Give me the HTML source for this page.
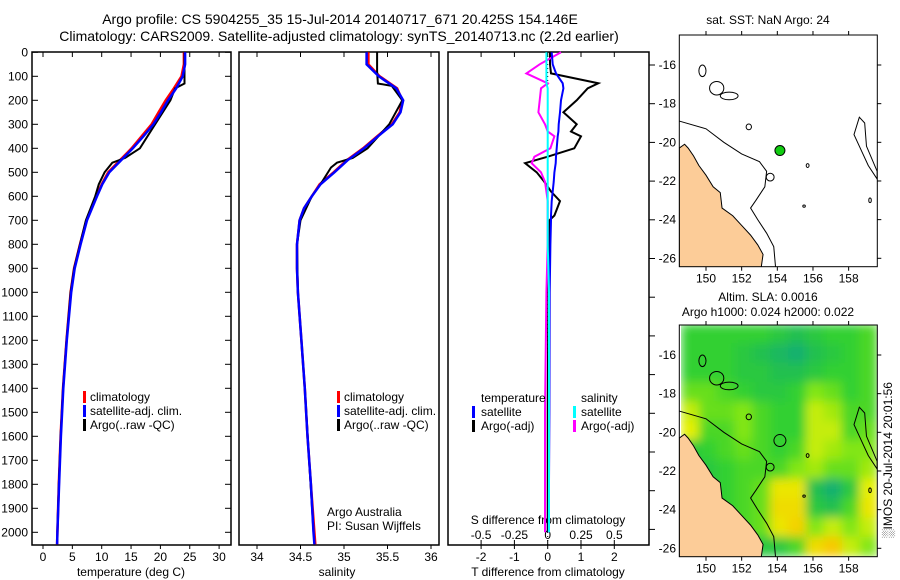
<!DOCTYPE html>
<html><head><meta charset="utf-8"><style>
body{margin:0;background:#fff;}
svg{display:block;font-family:"Liberation Sans",sans-serif;}
text{fill:#000;}
</style></head><body>
<svg id="c" width="900" height="580" viewBox="0 0 900 580">
<defs><filter id="smooth" x="0" y="0" width="1" height="1"><feGaussianBlur stdDeviation="5" edgeMode="duplicate"/></filter></defs>
<g id="titles">
<text x="340" y="24" font-size="14" text-anchor="middle">Argo profile: CS 5904255_35 15-Jul-2014 20140717_671 20.425S 154.146E</text>
<text x="339" y="41" font-size="14" text-anchor="middle">Climatology: CARS2009. Satellite-adjusted climatology: synTS_20140713.nc (2.2d earlier)</text>
<text x="768" y="24" font-size="12" text-anchor="middle">sat. SST: NaN Argo: 24</text>
<text x="768" y="301" font-size="12" text-anchor="middle">Altim. SLA: 0.0016</text>
<text x="768" y="316" font-size="12" text-anchor="middle">Argo h1000: 0.024 h2000: 0.022</text>
<text transform="translate(892,460) rotate(-90)" font-size="12" text-anchor="middle">░IMOS 20-Jul-2014 20:01:56</text>
</g>
</svg>
<script>
// ---- data ----
const depthTicks = [0,100,200,300,400,500,600,700,800,900,1000,1100,1200,1300,1400,1500,1600,1700,1800,1900,2000];
const tempTicks = [0,5,10,15,20,25,30];
const salTicks = [34,34.5,35,35.5,36];
const salTickLabels = ["34","34.5","35","35.5","36"];
const tdiffTicks = [-2,-1,0,1,2];
const sdiffTicks = [-0.5,-0.25,0,0.25,0.5];
const sdiffLabels = ["-0.5","-0.25","0","0.25","0.5"];

const climDepth = [0,50,100,150,200,250,300,350,400,450,500,550,600,700,800,900,1000,1200,1400,1600,1800,2000,2050];
const tempClim = [24.0,24.0,23.6,22.3,20.9,19.7,18.5,16.8,15.1,13.1,11.1,10.0,9.1,7.4,6.3,5.3,4.7,4.0,3.4,3.0,2.7,2.45,2.4];
const tempSat  = [24.2,24.2,23.8,22.7,21.3,20.1,18.8,17.1,15.3,13.3,11.3,10.1,9.2,7.5,6.4,5.4,4.8,4.05,3.45,3.05,2.75,2.45,2.4];
const argoTDepth = [0,130,150,200,300,400,440,460,500,550,600,700,800,900,1000,1200,1400,1600,1800,2000];
const tempArgo = [24.1,24.1,22.5,21.7,19.1,16.5,14.0,11.8,10.5,9.5,8.9,7.3,6.3,5.3,4.7,4.0,3.4,3.0,2.7,2.45];

const salDepth = [0,50,100,150,200,250,300,350,400,450,500,550,600,650,700,800,900,1000,1200,1400,1600,1800,2000,2050];
const salClim = [35.28,35.28,35.41,35.61,35.67,35.64,35.55,35.38,35.22,35.03,34.88,34.72,34.63,34.54,34.49,34.46,34.46,34.47,34.51,34.55,34.58,34.62,34.66,34.67];
const salSat  = [35.26,35.26,35.40,35.60,35.68,35.65,35.56,35.39,35.23,35.04,34.89,34.73,34.63,34.54,34.49,34.46,34.46,34.47,34.51,34.55,34.58,34.62,34.65,34.66];
const argoSDepth = [0,80,130,140,200,300,400,440,460,480,550,600,700,800,1000,1400,2000];
const salArgo = [35.38,35.38,35.39,35.55,35.67,35.52,35.27,35.1,34.92,34.85,34.73,34.63,34.5,34.46,34.47,34.55,34.65];

const diffDepth = [0,50,88,129,150,200,250,300,330,350,400,435,462,500,540,580,620,680,700,800,1000,1500,2000];
const tArgoDiff = [0.07,0.07,0.1,1.52,1.2,0.87,0.47,0.87,0.7,1.0,0.8,0.0,-0.68,-0.33,-0.1,0.1,0.37,0.2,0.05,0.03,0.02,0.0,0.0];
const tSatDiff  = [0.12,0.15,0.25,0.45,0.47,0.4,0.37,0.33,0.32,0.3,0.27,0.25,0.24,0.2,0.18,0.15,0.12,0.1,0.1,0.08,0.06,0.05,0.03];
const sArgoDiff = [0.1,-0.06,-0.16,0.0,-0.05,-0.06,-0.07,-0.02,0.0,0.05,0.02,-0.1,-0.12,-0.05,-0.02,-0.01,0,0,0,0,-0.01,-0.02,-0.02];
const sSatDiff  = [-0.01,-0.01,-0.01,-0.01,0,0,0,0,0,0,0,0,0,0,0,0,0,0,0,0,0.01,0.01,0.01];

const lonTicks = [150,152,154,156,158];
const latTicks = [-16,-18,-20,-22,-24,-26];
const argoLon = 154.146, argoLat = -20.425;
const slaGrid = [
 [0.45,0.45,0.45,0.45,0.45,0.4,0.35,0.4,0.45,0.45,0.5],
 [0.45,0.45,0.45,0.4,0.35,0.3,0.25,0.35,0.4,0.45,0.5],
 [0.45,0.45,0.45,0.4,0.4,0.35,0.35,0.4,0.45,0.45,0.5],
 [0.55,0.55,0.5,0.45,0.4,0.4,0.45,0.6,0.55,0.45,0.5],
 [0.7,0.55,0.55,0.6,0.5,0.45,0.45,0.7,0.65,0.5,0.5],
 [0.75,0.5,0.5,0.6,0.5,0.45,0.45,0.7,0.7,0.5,0.55],
 [0.4,0.45,0.5,0.55,0.5,0.45,0.5,0.7,0.65,0.6,0.6],
 [0.4,0.4,0.45,0.5,0.5,0.5,0.6,0.65,0.55,0.55,0.65],
 [0.4,0.4,0.45,0.5,0.55,0.8,0.8,0.35,0.25,0.4,0.75],
 [0.45,0.45,0.45,0.5,0.55,0.85,0.85,0.4,0.35,0.5,0.8],
 [0.45,0.45,0.5,0.5,0.55,0.8,0.9,0.6,0.7,0.6,0.7],
 [0.5,0.5,0.5,0.5,0.4,0.4,0.5,0.85,0.95,0.7,0.6]
];
const coastLon = [148.5,148.8,149.0,149.3,149.6,150.0,150.4,150.8,150.9,151.5,152.0,152.5,152.9,153.2,153.1,148.5];
const coastLat = [-20.3,-20.1,-20.3,-20.7,-21.2,-21.7,-22.3,-22.6,-23.4,-23.8,-24.3,-24.8,-25.3,-25.8,-26.45,-26.45];
const shelfLon = [148.5,150.0,151.0,152.0,153.0,153.4,153.3,152.8,152.5,152.9,153.4,153.8,153.9];
const shelfLat = [-18.9,-19.3,-20.0,-20.6,-21.0,-21.5,-22.3,-23.0,-23.4,-24.0,-24.7,-25.4,-26.45];
const reefLon = [158.9,158.6,158.3,158.6,159.1,159.6,159.6,159.0];
const reefLat = [-19.0,-18.7,-19.6,-20.2,-21.2,-21.9,-21.5,-20.2];
const islandLon = [149.8,150.6,151.3,152.4,153.6,155.7,155.5,159.2];
const islandLat = [-16.3,-17.2,-17.6,-19.2,-21.8,-21.2,-23.3,-23.0];
const islandRx = [0.2,0.4,0.5,0.15,0.22,0.08,0.07,0.07];
const islandRy = [0.3,0.35,0.2,0.15,0.2,0.1,0.06,0.12];

// ---- helpers ----
const NS="http://www.w3.org/2000/svg";
const svg=document.getElementById('c');
function mk(tag,attrs,parent){const e=document.createElementNS(NS,tag);for(const k in attrs)e.setAttribute(k,attrs[k]);(parent||svg).appendChild(e);return e;}
const yD = d => 52.3 + d*0.24;
const xT = t => 43 + t*5.87;
const xS = s => 257 + (s-34)*87;
const xTD = v => 547.7 + v*33.3;
const xSD = v => 547.7 + v*133.2;
const TOP=52, BOT=545;

function panel(name,x0,x1){
  const r=mk('rect',{x:x0,y:TOP,width:x1-x0,height:BOT-TOP,fill:'#fff',stroke:'#000','stroke-width':1.5});
  
  
}
function line(name,xs,ys,color,w){
  const pts=xs.map((x,i)=>x.toFixed(1)+','+ys[i].toFixed(1)).join(' ');
  const p=mk('polyline',{points:pts,fill:'none',stroke:color,'stroke-width':w||2});
  
  
}
function txt(name,x,y,s,size,anchor){
  const t=mk('text',{x:x,y:y,'font-size':size||12,'text-anchor':anchor||'start'});
  t.textContent=s;
  
  
  return t;
}
function legBar(name,x,y,color){
  const r=mk('rect',{x:x,y:y-10,width:3,height:12,fill:color});
  
  
}

// ---- panels ----
panel('temperature-panel',32,231);
panel('salinity-panel',239,439);
panel('difference-panel',448,649);

depthTicks.forEach(d=>{
  txt('depth-tick-label',28,yD(d)+4,String(d),12,'end');
  mk('line',{x1:32,x2:38,y1:yD(d),y2:yD(d),stroke:'#000'});
  mk('line',{x1:225,x2:231,y1:yD(d),y2:yD(d),stroke:'#000'});
});
for(let y=65;y<BOT;y+=38.7){mk('line',{x1:649,x2:655,y1:y,y2:y,stroke:'#000'});}
tempTicks.forEach(t=>{
  const x=xT(t);
  mk('line',{x1:x,x2:x,y1:TOP,y2:TOP+5,stroke:'#000'});
  mk('line',{x1:x,x2:x,y1:BOT,y2:BOT+4,stroke:'#000'});
  txt('temperature-tick-label',x,561,String(t),12,'middle');
});
txt('temperature-axis-title',131,576,'temperature (deg C)',12,'middle');
salTicks.forEach((s,i)=>{
  const x=xS(s);
  mk('line',{x1:x,x2:x,y1:TOP,y2:TOP+5,stroke:'#000'});
  mk('line',{x1:x,x2:x,y1:BOT,y2:BOT+4,stroke:'#000'});
  txt('salinity-tick-label',x,561,salTickLabels[i],12,'middle');
});
txt('salinity-axis-title',337,576,'salinity',12,'middle');
tdiffTicks.forEach(v=>{
  const x=xTD(v);
  mk('line',{x1:x,x2:x,y1:TOP,y2:TOP+5,stroke:'#000'});
  mk('line',{x1:x,x2:x,y1:BOT-5,y2:BOT+4,stroke:'#000'});
  txt('tdiff-tick-label',x,561,String(v),12,'middle');
});
sdiffTicks.forEach((v,i)=>{ txt('sdiff-tick-label',xSD(v),539,sdiffLabels[i],12,'middle'); });
txt('sdiff-axis-title',548,524,'S difference from climatology',12,'middle');
txt('tdiff-axis-title',548,576,'T difference from climatology',12,'middle');

// ---- profile lines ----
line('temp-climatology-line',tempClim.map(xT),climDepth.map(yD),'#f00',2.5);
line('temp-argo-line',tempArgo.map(xT),argoTDepth.map(yD),'#000',2);
line('temp-satellite-line',tempSat.map(xT),climDepth.map(yD),'#00f',2.5);
line('sal-climatology-line',salClim.map(xS),salDepth.map(yD),'#f00',2.5);
line('sal-argo-line',salArgo.map(xS),argoSDepth.map(yD),'#000',2);
line('sal-satellite-line',salSat.map(xS),salDepth.map(yD),'#00f',2.5);

const zl=mk('line',{x1:547.7,x2:547.7,y1:TOP,y2:BOT,stroke:'#000','stroke-dasharray':'1,3'});


line('tdiff-argo-line',tArgoDiff.map(xTD),diffDepth.map(yD),'#000',2);
line('sdiff-argo-line',sArgoDiff.map(xSD),diffDepth.map(yD),'#f0f',2);
line('tdiff-satellite-line',tSatDiff.map(xTD),diffDepth.map(yD),'#00f',2);
line('sdiff-satellite-line',sSatDiff.map(xSD),diffDepth.map(yD),'#0ff',2);

// ---- legends ----
[['climatology','#f00'],['satellite-adj. clim.','#00f'],['Argo(..raw -QC)','#000']].forEach((e,i)=>{
  legBar('temp-legend-swatch',83,401+i*14,e[1]);
  txt('temp-legend-entry',90,401+i*14,e[0],12);
  legBar('sal-legend-swatch',337,401+i*14,e[1]);
  txt('sal-legend-entry',344,401+i*14,e[0],12);
});
txt('argo-australia-label',327,516,'Argo Australia',12);
txt('pi-label',327,530,'PI: Susan Wijffels',12);
txt('diff-legend-temperature',481,402,'temperature',12);
txt('diff-legend-salinity',581,402,'salinity',12);
legBar('diff-legend-swatch',472,416,'#00f'); txt('diff-legend-entry',481,416,'satellite',12);
legBar('diff-legend-swatch',472,430,'#000'); txt('diff-legend-entry',481,430,'Argo(-adj)',12);
legBar('diff-legend-swatch',573,416,'#0ff'); txt('diff-legend-entry',581,416,'satellite',12);
legBar('diff-legend-swatch',573,430,'#f0f'); txt('diff-legend-entry',581,430,'Argo(-adj)',12);

// ---- maps ----
const MX0=679.3, MX1=877.3;
const xL = lon => 706 + (lon-150)*17.83;
function drawMap(name,top,bot,lat16,heat){
  const yL = lat => lat16 + (-16-lat)*19.33;
  const g=mk('g',{});
  
  
  const cp=mk('clipPath',{id:name+'-clip'},g);
  mk('rect',{x:MX0,y:top,width:MX1-MX0,height:bot-top},cp);
  const inner=mk('g',{'clip-path':'url(#'+name+'-clip)'},g);
  mk('rect',{x:MX0,y:top,width:MX1-MX0,height:bot-top,fill:'#fff'},inner);
  if(heat){
    const ramp=[[0.25,[24,176,112]],[0.45,[48,208,48]],[0.6,[130,230,20]],[0.75,[230,240,0]],[0.95,[248,200,0]]];
    function col(v){
      if(v<=ramp[0][0])return 'rgb('+ramp[0][1]+')';
      for(let i=1;i<ramp.length;i++){if(v<=ramp[i][0]){const a=ramp[i-1],b=ramp[i],f=(v-a[0])/(b[0]-a[0]);return 'rgb('+a[1].map((c,k)=>Math.round(c+(b[1][k]-c)*f)).join(',')+')';}}
      return 'rgb('+ramp[ramp.length-1][1]+')';
    }
    const hg=mk('g',{filter:'url(#smooth)'},inner);
    slaGrid.forEach((row,r)=>row.forEach((v,c)=>{
      const lon0=148.6+c, lat0=-14.4-r;
      const cell=mk('rect',{x:xL(lon0),y:yL(lat0),width:18.4,height:19.9,fill:col(v)},hg);
      
      
    }));
  }
  const land=mk('polygon',{points:coastLon.map((l,i)=>xL(l)+','+yL(coastLat[i])).join(' '),fill:'#fccc98',stroke:'#000','stroke-width':1},inner);
  
  
  const sh=mk('polyline',{points:shelfLon.map((l,i)=>xL(l)+','+yL(shelfLat[i])).join(' '),fill:'none',stroke:'#000','stroke-width':1},inner);
  
  
  const rf=mk('polygon',{points:reefLon.map((l,i)=>xL(l)+','+yL(reefLat[i])).join(' '),fill:'none',stroke:'#000','stroke-width':1},inner);
  
  
  islandLon.forEach((l,i)=>{
    const e=mk('ellipse',{cx:xL(l),cy:yL(islandLat[i]),rx:islandRx[i]*17.8,ry:islandRy[i]*19.3,fill:'none',stroke:'#000','stroke-width':1},inner);
    
    
  });
  const dot=mk('circle',{cx:xL(argoLon),cy:yL(argoLat),r:heat?6:5,fill:heat?'none':'#1c1',stroke:'#000','stroke-width':1},inner);
  
  
  mk('rect',{x:MX0,y:top,width:MX1-MX0,height:bot-top,fill:'none',stroke:'#000','stroke-width':1},g);
  lonTicks.forEach(l=>{
    mk('line',{x1:xL(l),x2:xL(l),y1:top-4,y2:top,stroke:'#000'},g);
    mk('line',{x1:xL(l),x2:xL(l),y1:bot,y2:bot+4,stroke:'#000'},g);
    txt('lon-tick-label',xL(l),bot+16,String(l),12,'middle');
  });
  latTicks.forEach(l=>{
    mk('line',{x1:MX1,x2:MX1+4,y1:yL(l),y2:yL(l),stroke:'#000'},g);
    txt('lat-tick-label',676,yL(l)+4,String(l),12,'end');
  });
}
drawMap('sst-map',35,266.7,65,false);
drawMap('sla-map',325,556.7,355,true);
</script>
</body></html>
